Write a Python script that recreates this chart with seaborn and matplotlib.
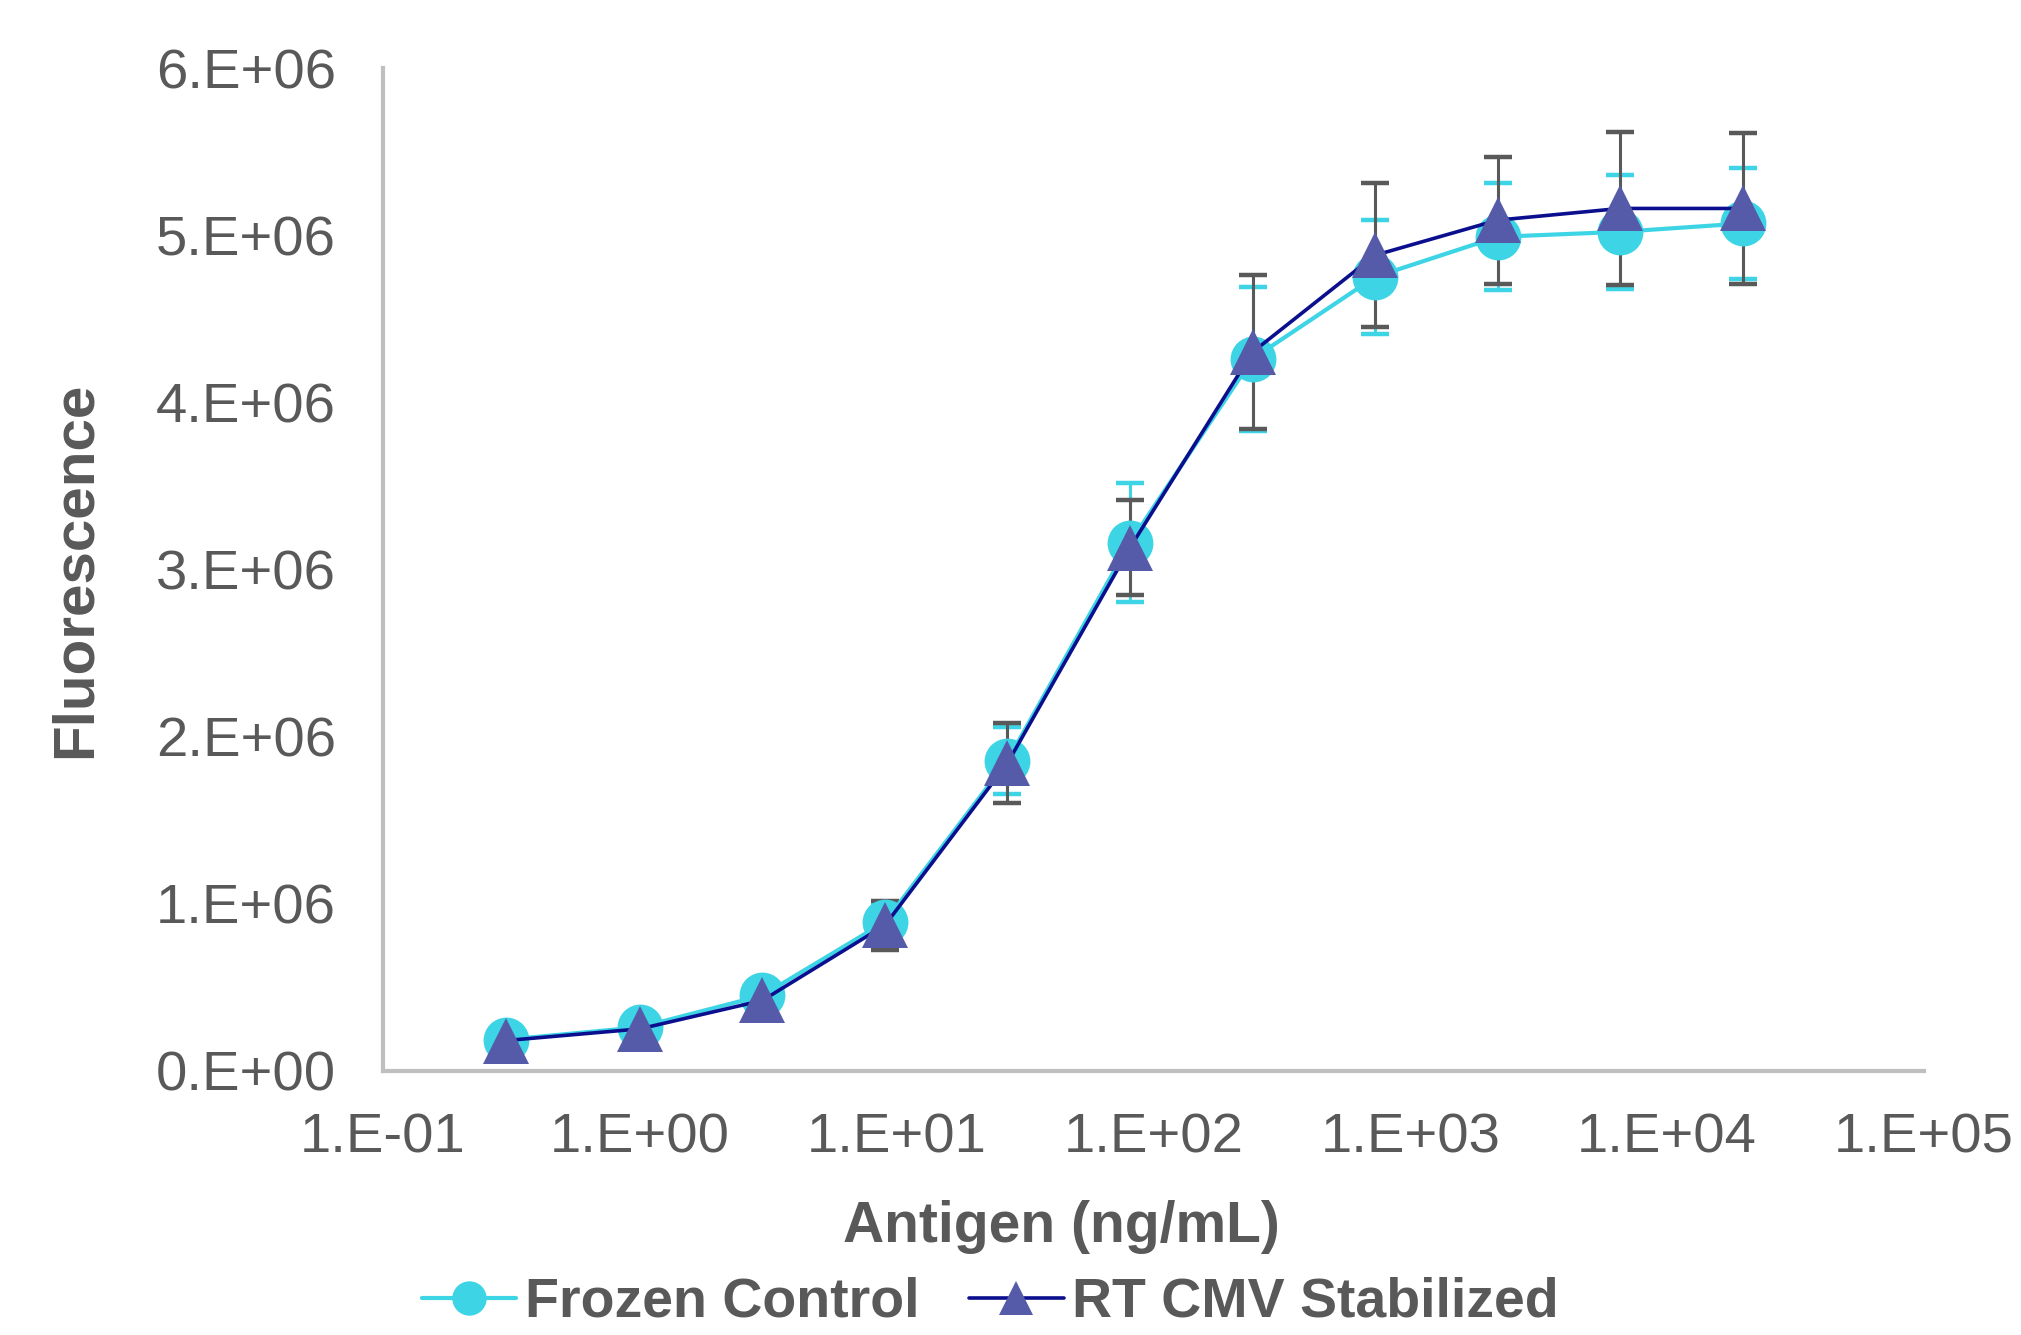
import matplotlib
matplotlib.use("Agg")
import matplotlib.pyplot as plt
import seaborn as sns
import pandas as pd
import numpy as np

# ---- data ----
antigen = [0.3, 1, 3, 9, 27, 81, 243, 729, 2187, 6561, 19683]
frozen = [0.185e6, 0.26e6, 0.45e6, 0.89e6, 1.855e6, 3.16e6, 4.26e6, 4.75e6, 4.99e6, 5.02e6, 5.07e6]
frozen_err = [0.02e6, 0.03e6, 0.04e6, 0.10e6, 0.20e6, 0.355e6, 0.43e6, 0.34e6, 0.32e6, 0.34e6, 0.33e6]
rt = [0.18e6, 0.25e6, 0.42e6, 0.87e6, 1.84e6, 3.13e6, 4.30e6, 4.88e6, 5.09e6, 5.16e6, 5.16e6]
rt_err = [0.02e6, 0.03e6, 0.04e6, 0.145e6, 0.24e6, 0.285e6, 0.46e6, 0.43e6, 0.38e6, 0.46e6, 0.45e6]
series_names = ["Frozen Control", "RT CMV Stabilized"]
x_ticks = [0.1, 1, 10, 100, 1000, 10000, 100000]
x_tick_labels = ["1.E-01", "1.E+00", "1.E+01", "1.E+02", "1.E+03", "1.E+04", "1.E+05"]
y_ticks = [0, 1e6, 2e6, 3e6, 4e6, 5e6, 6e6]
y_tick_labels = ["0.E+00", "1.E+06", "2.E+06", "3.E+06", "4.E+06", "5.E+06", "6.E+06"]

df_frozen = pd.DataFrame({"x": antigen, "y": frozen, "err": frozen_err})
df_rt = pd.DataFrame({"x": antigen, "y": rt, "err": rt_err})

sns.set_style("white")
plt.rcParams["font.family"] = ["Liberation Sans", "DejaVu Sans"]

fig = plt.figure(figsize=(20.21, 13.35), dpi=100)
ax = fig.add_axes([0.1895, 0.198, 0.7625, 0.751])

cyan = "#3DD5E6"
navy = "#0B0F8E"
tri_fill = "#565BA9"
err_gray = "#595959"
axis_gray = "#BFBFBF"
text_gray = "#595959"

# error bars (behind markers)
ax.errorbar(df_frozen["x"], df_frozen["y"], yerr=df_frozen["err"], fmt="none",
            ecolor=cyan, elinewidth=2.2, capsize=10, capthick=3.2, zorder=1)
ax.errorbar(df_rt["x"], df_rt["y"], yerr=df_rt["err"], fmt="none",
            ecolor=err_gray, elinewidth=2.2, capsize=10, capthick=3.2, zorder=1.5)

sns.lineplot(data=df_frozen, x="x", y="y", ax=ax, color=cyan, linewidth=3.0,
             marker="o", markersize=33, markerfacecolor=cyan, markeredgecolor=cyan,
             markeredgewidth=0, label=series_names[0], zorder=2, legend=False)
sns.lineplot(data=df_rt, x="x", y="y", ax=ax, color=navy, linewidth=2.6,
             marker="^", markersize=33, markerfacecolor=tri_fill, markeredgecolor=tri_fill,
             markeredgewidth=0, label=series_names[1], zorder=3, legend=False)

ax.set_xscale("log")
ax.set_xlim(0.1, 100000)
ax.set_ylim(0, 6e6)
ax.set_xticks(x_ticks)
ax.set_xticklabels(x_tick_labels)
ax.xaxis.set_minor_locator(matplotlib.ticker.NullLocator())
ax.set_yticks(y_ticks)
ax.set_yticklabels(y_tick_labels)

for s in ["top", "right"]:
    ax.spines[s].set_visible(False)
for s in ["left", "bottom"]:
    ax.spines[s].set_color(axis_gray)
    ax.spines[s].set_linewidth(3)
ax.tick_params(axis="both", which="major", direction="out", length=12, width=2.5,
               color=axis_gray, labelcolor=text_gray, labelsize=40.5)
ax.tick_params(axis="y", pad=22)
ax.tick_params(axis="x", pad=18)
ax.grid(False)

ax.set_xlabel("Antigen (ng/mL)", fontsize=41, fontweight="bold", color=text_gray, labelpad=26)
ax.xaxis.label.set_x(0.44)
ax.set_ylabel("Fluorescence", fontsize=42, fontweight="bold", color=text_gray, labelpad=38)

handles, labels = ax.get_legend_handles_labels()
leg = fig.legend(handles, labels, loc="center", bbox_to_anchor=(0.49, 0.024), ncol=2,
                 frameon=False, fontsize=40, handlelength=1.7, handletextpad=0.15,
                 columnspacing=0.9, markerscale=0.75, borderpad=0.0)
for t in leg.get_texts():
    t.set_fontweight("bold")
    t.set_color(text_gray)

fig.savefig("out.png", dpi=100, facecolor="white")
